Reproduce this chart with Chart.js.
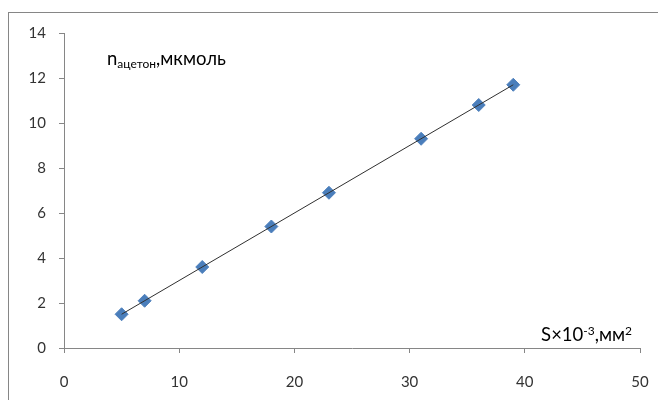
<!DOCTYPE html>
<html>
<head>
<meta charset="utf-8">
<script src="https://cdn.jsdelivr.net/npm/chart.js@4/dist/chart.umd.min.js"></script>
<style>
  html, body { margin: 0; padding: 0; background: #fff; }
  #wrap { width: 658px; height: 400px; position: relative; }
</style>
</head>
<body>
<div id="wrap"><canvas id="c" width="658" height="400"></canvas></div>
<script>
// Data
const areaS = [5, 7, 12, 18, 23, 31, 36, 39];          // S×10^-3, мм²
const acetone = [1.5, 2.1, 3.6, 5.4, 6.9, 9.3, 10.8, 11.7]; // n ацетон, мкмоль
const xTicks = [0, 10, 20, 30, 40, 50];
const yTicks = [0, 2, 4, 6, 8, 10, 12, 14];

// Linear trendline (least squares) from the data
function trend(xs, ys) {
  const n = xs.length;
  const mx = xs.reduce((a, b) => a + b, 0) / n;
  const my = ys.reduce((a, b) => a + b, 0) / n;
  let sxy = 0, sxx = 0;
  for (let i = 0; i < n; i++) { sxy += (xs[i] - mx) * (ys[i] - my); sxx += (xs[i] - mx) ** 2; }
  const k = sxy / sxx, b = my - k * mx;
  const x0 = Math.min(...xs), x1 = Math.max(...xs);
  return [{ x: x0, y: k * x0 + b }, { x: x1, y: k * x1 + b }];
}

const FONT = 'Lato, "Open Sans", sans-serif';
const AXIS = '#868686';

const frameAndTitles = {
  id: 'frameAndTitles',
  beforeDraw(chart) {
    const ctx = chart.ctx;
    ctx.save();
    ctx.fillStyle = '#fff';
    ctx.fillRect(0, 0, chart.width, chart.height);
    ctx.strokeStyle = AXIS;
    ctx.lineWidth = 1;
    ctx.strokeRect(8.5, 12.5, 800, 600);
    ctx.restore();
  },
  afterDraw(chart) {
    const ctx = chart.ctx;
    const a = chart.chartArea;
    ctx.save();
    ctx.fillStyle = '#000';
    ctx.textBaseline = 'alphabetic';
    // Y title: n_ацетон,мкмоль
    const parts = [
      { t: 'n', size: 18.5, dy: 0 },
      { t: 'ацетон', size: 12, dy: 3 },
      { t: ',мкмоль', size: 18.5, dy: 0 }
    ];
    let x = a.left + 43, y = a.top + 32;
    ctx.textAlign = 'left';
    for (const p of parts) {
      ctx.font = p.size + 'px ' + FONT;
      ctx.fillText(p.t, x, y + p.dy);
      x += ctx.measureText(p.t).width;
    }
    // X title: S×10^-3,мм²  (right aligned)
    const xp = [
      { t: 'S×10', size: 18.5, dy: 0 },
      { t: '-3', size: 12, dy: -6 },
      { t: ',мм', size: 18.5, dy: 0 },
      { t: '2', size: 12, dy: -6 }
    ];
    let total = 0;
    for (const p of xp) { ctx.font = p.size + 'px ' + FONT; total += ctx.measureText(p.t).width; }
    x = a.right - 8 - total; y = a.bottom - 7;
    for (const p of xp) {
      ctx.font = p.size + 'px ' + FONT;
      ctx.fillText(p.t, x, y + p.dy);
      x += ctx.measureText(p.t).width;
    }
    ctx.restore();
  }
};

new Chart(document.getElementById('c'), {
  type: 'scatter',
  data: {
    datasets: [
      {
        type: 'line',
        label: 'trend',
        data: trend(areaS, acetone),
        borderColor: '#303030',
        borderWidth: 1,
        pointRadius: 0,
        fill: false,
        order: 0
      },
      {
        label: 'n',
        data: areaS.map((v, i) => ({ x: v, y: acetone[i] })),
        pointStyle: 'rectRot',
        pointRadius: 6.5,
        pointHoverRadius: 6.5,
        backgroundColor: '#4a7ebb',
        borderColor: '#4f81bd',
        borderWidth: 1,
        order: 1
      }
    ]
  },
  options: {
    responsive: false,
    animation: false,
    events: [],
    layout: { padding: { top: 33, right: 18, left: 0, bottom: 0 } },
    plugins: { legend: { display: false }, tooltip: { enabled: false } },
    scales: {
      x: {
        type: 'linear',
        min: 0, max: 50,
        afterBuildTicks: s => { s.ticks = xTicks.map(v => ({ value: v })); },
        afterFit: s => { s.height = 52; s.paddingRight = 0; s.paddingLeft = 0; },
        grid: { display: true, drawOnChartArea: false, drawTicks: true, tickLength: 5, color: AXIS },
        border: { display: true, color: AXIS },
        ticks: { color: '#333', font: { family: FONT, size: 15 }, padding: 20, maxRotation: 0 }
      },
      y: {
        type: 'linear',
        min: 0, max: 14,
        afterBuildTicks: s => { s.ticks = yTicks.map(v => ({ value: v })); },
        afterFit: s => { s.width = 64; s.paddingTop = 0; s.paddingBottom = 0; },
        grid: { display: true, drawOnChartArea: false, drawTicks: true, tickLength: 5, color: AXIS },
        border: { display: true, color: AXIS },
        ticks: { color: '#333', font: { family: FONT, size: 15 }, padding: 13 }
      }
    }
  },
  plugins: [frameAndTitles]
});
</script>
</body>
</html>
